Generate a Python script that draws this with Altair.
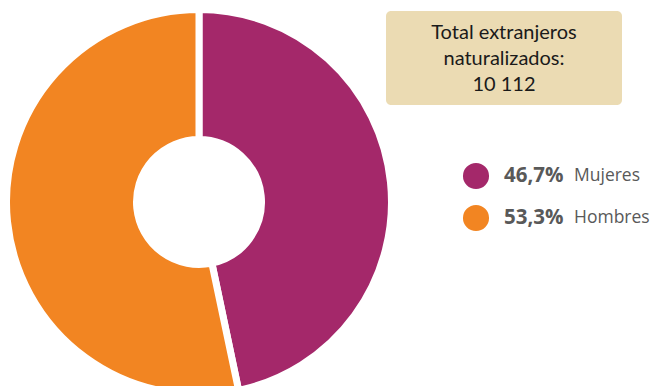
import altair as alt
import pandas as pd

categories = ["Mujeres", "Hombres"]
percentages = [46.7, 53.3]
colors = ["#A4286A", "#F28522"]
box_lines = ["Total extranjeros", "naturalizados:", "10 112"]

df = pd.DataFrame({
    "category": categories,
    "value": percentages,
    "order": list(range(len(categories))),
    "pct_label": [f"{v:.1f}".replace(".", ",") + "%" for v in percentages],
})

color_scale = alt.Scale(domain=categories, range=colors)
row_scale = alt.Scale(type="point", domain=categories, range=[168, 210], padding=0)

base = alt.Chart(df)

donut = base.mark_arc(outerRadius=192.5, innerRadius=62.5, stroke="white", strokeWidth=7).encode(
    theta=alt.Theta("value:Q", stack=True),
    order=alt.Order("order:Q"),
    color=alt.Color("category:N", scale=color_scale, legend=None),
    x=alt.value(191),
    y=alt.value(194),
)

box_df = pd.DataFrame({"text": ["\n".join(box_lines)]})
box = alt.Chart(box_df).mark_rect(color="#EBDBB3", cornerRadius=5).encode(
    x=alt.value(378), x2=alt.value(614), y=alt.value(3), y2=alt.value(97)
)
box_text = alt.Chart(box_df).mark_text(
    font="Lato", fontSize=20, color="#1a1a1a", lineBreak="\n", lineHeight=26,
    align="center", baseline="middle"
).encode(text="text:N", x=alt.value(496), y=alt.value(25))

dots = base.mark_point(filled=True, shape="circle", size=680, opacity=1).encode(
    x=alt.value(468),
    y=alt.Y("category:N", scale=row_scale, axis=None),
    color=alt.Color("category:N", scale=color_scale, legend=None),
)
pct = base.mark_text(font="Open Sans", fontSize=20.5, fontWeight="bold", color="#595959",
                     align="left", baseline="middle").encode(
    x=alt.value(496),
    y=alt.Y("category:N", scale=row_scale, axis=None),
    text="pct_label:N",
)
names = base.mark_text(font="Open Sans", fontSize=17.5, color="#595959",
                       align="left", baseline="middle").encode(
    x=alt.value(566),
    y=alt.Y("category:N", scale=row_scale, axis=None),
    text="category:N",
)

chart = alt.layer(donut, box, box_text, dots, pct, names).properties(
    width=642, height=378, padding=0, autosize=alt.AutoSizeParams(type="none")
).configure_view(stroke=None)

chart.save("out.html", embed_options={"renderer": "svg", "actions": False})
